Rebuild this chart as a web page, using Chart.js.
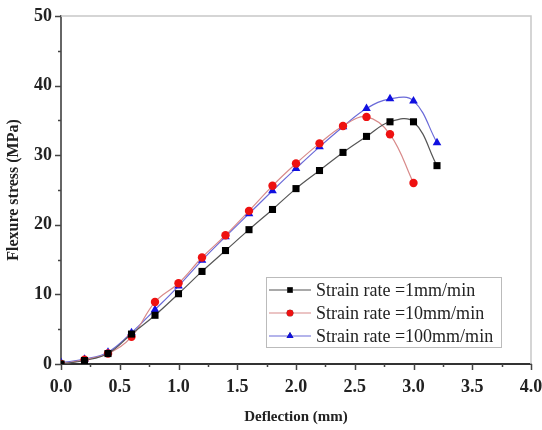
<!DOCTYPE html>
<html>
<head>
<meta charset="utf-8">
<script src="https://cdn.jsdelivr.net/npm/chart.js@4.4.0/dist/chart.umd.min.js"></script>
<style>
  html, body { margin: 0; padding: 0; background: #fff; }
  #wrap { width: 542px; height: 430px; }
</style>
</head>
<body>
<div id="wrap"><canvas id="myChart"></canvas></div>
<script>
// deflection (mm) where each point was measured
const deflection = [0, 0.2, 0.4, 0.6, 0.8, 1.0, 1.2, 1.4, 1.6, 1.8, 2.0, 2.2, 2.4, 2.6, 2.8, 3.0, 3.2];

// flexure stress (MPa) per strain rate
const rate1 = [0, 0.5, 1.5, 4.3, 7.0, 10.1, 13.3, 16.3, 19.3, 22.2, 25.2, 27.8, 30.4, 32.7, 34.8, 34.8, 28.5];
const rate10 = [0, 0.6, 1.5, 3.9, 8.9, 11.6, 15.3, 18.5, 22.0, 25.6, 28.8, 31.7, 34.2, 35.5, 33.0, 26.0];
const rate100 = [0.2, 0.7, 1.7, 4.5, 7.8, 11.2, 14.9, 18.3, 21.6, 24.9, 28.1, 31.2, 34.1, 36.7, 38.1, 37.8, 31.8];

const seriesLabels = ['Strain rate =1mm/min', 'Strain rate =10mm/min', 'Strain rate =100mm/min'];

const xTicks = [0, 0.5, 1.0, 1.5, 2.0, 2.5, 3.0, 3.5, 4.0];
const yTicks = [0, 10, 20, 30, 40, 50];

function toPoints(values) {
    return values.map((v, i) => ({ x: deflection[i], y: v }));
}

const serif = "'Liberation Serif', 'Times New Roman', serif";

// frame, minor/major ticks and the in-plot legend
const extras = {
    id: 'extras',
    afterDraw(chart) {
        const c = chart.ctx;
        const a = chart.chartArea;
        const xs = chart.scales.x;
        const ys = chart.scales.y;
        c.save();

        // light top / right frame
        c.strokeStyle = '#c8c8c8';
        c.lineWidth = 1.5;
        c.beginPath();
        c.moveTo(a.left, a.top);
        c.lineTo(a.right, a.top);
        c.lineTo(a.right, a.bottom);
        c.stroke();

        // ticks
        c.strokeStyle = '#444';
        c.lineWidth = 1.5;
        c.beginPath();
        for (let v = 0; v <= 50.001; v += 5) {
            const py = Math.round(ys.getPixelForValue(v)) + 0.5;
            const len = (Math.round(v) % 10 === 0) ? 6 : 3;
            c.moveTo(a.left, py);
            c.lineTo(a.left - len, py);
        }
        for (let v = 0; v <= 4.001; v += 0.25) {
            const px = Math.round(xs.getPixelForValue(v)) + 0.5;
            const major = Math.abs(v * 2 - Math.round(v * 2)) < 1e-6;
            c.moveTo(px, a.bottom);
            c.lineTo(px, a.bottom + (major ? 6 : 3));
        }
        c.stroke();

        // legend box
        const bx = 266, by = 277, bw = 235, bh = 70;
        c.strokeStyle = '#bbb';
        c.lineWidth = 1;
        c.fillStyle = '#fff';
        c.fillRect(bx, by, bw, bh);
        c.strokeRect(bx + 0.5, by + 0.5, bw, bh);

        c.font = '18px ' + serif;
        c.textBaseline = 'middle';
        chart.data.datasets.forEach((ds, i) => {
            const ry = by + 13 + i * 23;
            c.strokeStyle = ds.borderColor;
            c.lineWidth = 1.2;
            c.beginPath();
            c.moveTo(bx + 3, ry);
            c.lineTo(bx + 45, ry);
            c.stroke();
            Chart.helpers.drawPoint(c, {
                pointStyle: ds.pointStyle,
                radius: ds.pointRadius * 0.8,
                rotation: 0,
                borderWidth: 0
            }, bx + 24, ry);
            c.fillStyle = ds.pointBackgroundColor;
            c.fill();
            c.fillStyle = '#222';
            c.fillText(ds.label, bx + 50, ry + 1);
        });
        c.restore();
    }
};

const ctx = document.getElementById('myChart');

const myChart = new Chart(ctx, {
    type: 'line',
    data: {
        datasets: [{
            label: seriesLabels[0],
            data: toPoints(rate1),
            borderColor: '#555',
            borderWidth: 1.2,
            pointStyle: 'rect',
            pointRadius: 5,
            pointBackgroundColor: '#000',
            pointBorderWidth: 0,
            tension: 0.4
        }, {
            label: seriesLabels[1],
            data: toPoints(rate10),
            borderColor: '#d88a8a',
            borderWidth: 1.2,
            pointStyle: 'circle',
            pointRadius: 4.2,
            pointBackgroundColor: '#ee1111',
            pointBorderWidth: 0,
            tension: 0.4
        }, {
            label: seriesLabels[2],
            data: toPoints(rate100),
            borderColor: '#6a6ad8',
            borderWidth: 1.2,
            pointStyle: 'triangle',
            pointRadius: 5,
            pointBackgroundColor: '#1010e0',
            pointBorderWidth: 0,
            tension: 0.4
        }]
    },
    options: {
        responsive: true,
        maintainAspectRatio: false,
        animation: false,
        layout: { padding: { top: 16, right: 11, left: 0, bottom: 0 } },
        plugins: {
            legend: { display: false },
            tooltip: { enabled: false }
        },
        scales: {
            x: {
                type: 'linear',
                min: 0,
                max: 4,
                afterBuildTicks: (scale) => { scale.ticks = xTicks.map(v => ({ value: v })); },
                afterFit: (scale) => {
                    scale.height = 66;
                    scale.paddingLeft = 0;
                    scale.paddingRight = 0;
                },
                grid: { display: false, drawTicks: false },
                border: { color: '#333', width: 2 },
                ticks: {
                    padding: 13,
                    color: '#222',
                    font: { family: serif, size: 18, weight: 'bold' },
                    callback: (v) => v.toFixed(1)
                },
                title: {
                    display: true,
                    text: 'Deflection (mm)',
                    color: '#222',
                    padding: { top: 6 },
                    font: { family: serif, size: 15, weight: 'bold' }
                }
            },
            y: {
                min: 0,
                max: 50,
                afterBuildTicks: (scale) => { scale.ticks = yTicks.map(v => ({ value: v })); },
                afterFit: (scale) => {
                    scale.width = 61;
                    scale.paddingTop = 0;
                    scale.paddingBottom = 0;
                },
                grid: { display: false, drawTicks: false },
                border: { color: '#666', width: 2 },
                ticks: {
                    padding: 9,
                    color: '#222',
                    font: { family: serif, size: 18, weight: 'bold' }
                },
                title: {
                    display: true,
                    text: 'Flexure stress (MPa)',
                    color: '#222',
                    padding: { bottom: 0 },
                    font: { family: serif, size: 16, weight: 'bold' }
                }
            }
        }
    },
    plugins: [extras]
});
</script>
</body>
</html>
